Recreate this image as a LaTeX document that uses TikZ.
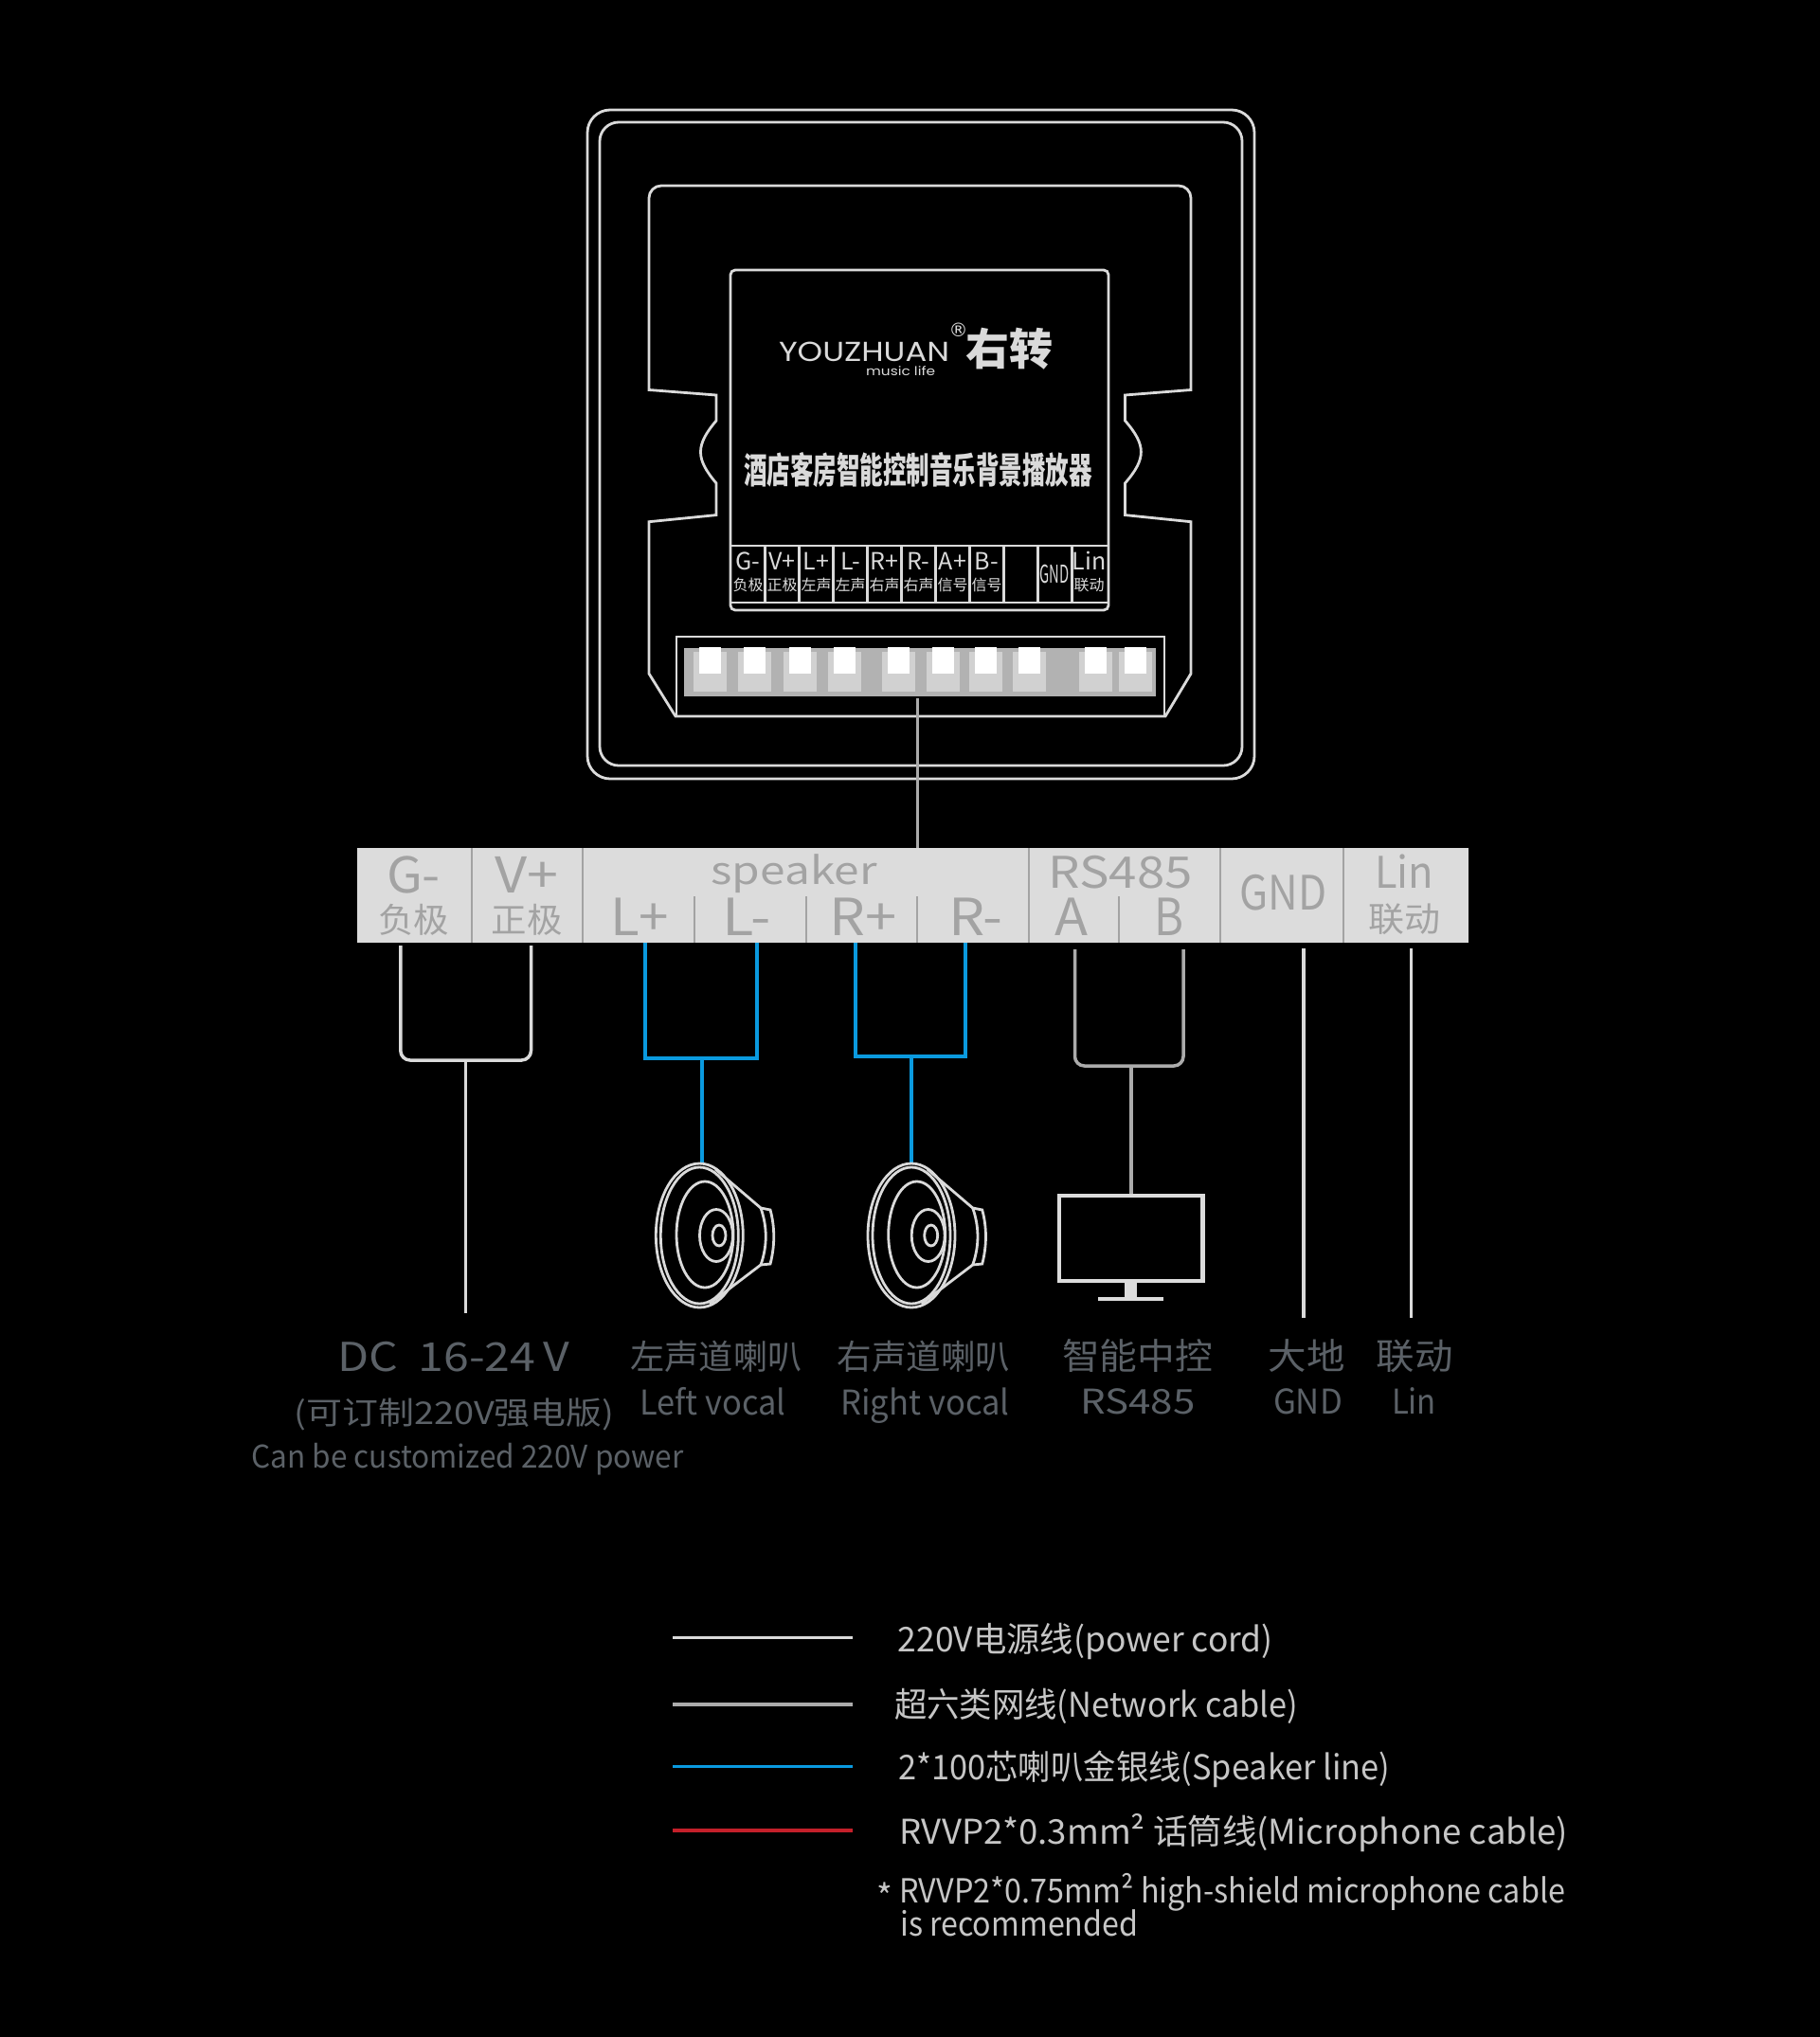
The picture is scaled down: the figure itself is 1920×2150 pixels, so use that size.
\documentclass[tikz,border=0pt]{standalone}
\usepackage{graphicx}
\usepackage{fontspec}
\setmainfont{Noto Sans CJK SC}
\newfontfamily\logofont{Poppins}
\newfontfamily\markfont{DejaVu Sans}
\newcommand{\wtext}[2]{\resizebox{#1pt}{\height}{#2}}
\newcommand{\fs}[1]{\fontsize{#1}{#1}\selectfont}
\definecolor{linegray}{HTML}{DADADA}
\definecolor{netgray}{HTML}{ABABAB}
\definecolor{barfill}{HTML}{DCDCDC}
\definecolor{bartext}{HTML}{A3A3A3}
\definecolor{dimtext}{HTML}{5B6167}
\definecolor{legtext}{HTML}{C6C6C6}
\definecolor{wireblue}{HTML}{0A9ADF}
\definecolor{wirered}{HTML}{C4202A}
\begin{document}
\begin{tikzpicture}[x=1pt, y=-1pt]
        \tikzstyle{outline}=[draw=linegray, line width=2.8pt]
        \tikzstyle{power}=[draw=linegray, line width=3.5pt]
        \tikzstyle{net}=[draw=netgray, line width=3.5pt]
        \tikzstyle{spk}=[draw=wireblue, line width=4pt]
        \tikzstyle{txt}=[inner sep=0pt, anchor=base]
        \tikzstyle{bartxt}=[txt, text=bartext]
        \tikzstyle{dimtxt}=[txt, text=dimtext]
        \tikzstyle{legtxt}=[txt, anchor=base west, text=legtext]
        \tikzstyle{celltxt}=[txt, text=linegray]

        % Background
        \useasboundingbox (0,0) rectangle (1920,2150);
        \fill[black] (-5,-5) rectangle (1925,2155);

        % Panel
        \draw[outline, rounded corners=24] (620,116) rectangle (1324,822);
        \draw[outline, rounded corners=20] (633,129) rectangle (1311,808);
        \draw[outline] (685,411.5) [rounded corners=13] -- (685,196) -- (1257,196) [sharp corners] -- (1257,411.5)
            -- (1187.5,417) -- (1187.5,444) .. controls (1210,470) and (1210,484) .. (1187.5,510)
            -- (1187.5,543.6) -- (1257,550.7) -- (1257,711) -- (1230,756) -- (713,756) -- (685,711)
            -- (685,550.7) -- (756,543.6) -- (756,510) .. controls (734,484) and (734,470) .. (756,444)
            -- (756,417) -- cycle;
        \draw[outline] (714,756) -- (714,672) -- (1229,672) -- (1229,756);

        % Module
        \draw[outline, rounded corners=5] (771,285) rectangle (1170,644);
        \draw[outline] (771,576) -- (1170,576);
        \draw[outline] (771,636) -- (1170,636);
        \foreach \i in {1,...,10}
            \draw[outline] ({771.7+36*\i},576) -- ({771.7+36*\i},636);
        \foreach \i/\up/\low in {0/G-/负极, 1/V+/正极, 2/L+/左声, 3/L-/左声, 4/R+/右声, 5/R-/右声, 6/A+/信号, 7/B-/信号, 10/Lin/联动} {
            \draw node at ({789.5+36*\i},601) [celltxt, font=\fs{25}] (cell_up_\i) {\up};
            \draw node at ({789.5+36*\i},623) [celltxt, font=\fs{16}] (cell_low_\i) {\low};
        }
        \draw node at (1113,615) [celltxt, font=\fs{26}] (cell_gnd) {\wtext{31}{GND}};

        % Logo
        \draw node at (912,381) [txt, text=linegray, font=\logofont\fs{29}] (logo_en) {\wtext{180}{YOUZHUAN}};
        \draw node at (950.6,396) [txt, text=linegray, font=\logofont\fs{13}] (logo_sub) {\wtext{73}{music life}};
        \draw node at (1011.5,355) [txt, text=linegray, font=\markfont\fs{20}] (logo_reg) {®};
        \draw node at (1065,385) [txt, text=linegray, font=\bfseries\fs{46}] (logo_cn) {\wtext{92}{右转}};
        \draw node at (969,510) [txt, text=linegray, font=\bfseries\fs{38}] (title) {\wtext{368}{酒店客房智能控制音乐背景播放器}};

        % Plug
        \draw node at (971.3,709) [fill=black!30, minimum width=498pt, minimum height=51pt, inner sep=0pt] (strip) {};
        \foreach \cx in {749,796,844,891,948,995,1040,1086,1156,1198} {
            \fill[black!18] ({\cx-17.5},688) rectangle ({\cx+17.5},730);
            \fill[white] ({\cx-11.5},683) rectangle ({\cx+11.5},711);
        }

        % Terminal bar
        \draw node at (963.5,945) [fill=barfill, minimum width=1173pt, minimum height=100.6pt, inner sep=0pt] (bar) {};
        \foreach \x in {497.8,614.8,1085.5,1287.5,1417.6}
            \draw[draw=bartext, line width=2pt] (\x,895) -- (\x,995);
        \foreach \x in {732.7,850.5,968.4,1181}
            \draw[draw=bartext, line width=2pt] (\x,946) -- (\x,995);

        \draw node at (436.5,942) [bartxt, font=\fs{52}] (bar_g) {\wtext{57}{G-}};
        \draw node at (436.5,984) [bartxt, font=\fs{36}] (bar_g_cn) {\wtext{75}{负极}};
        \draw node at (556,942) [bartxt, font=\fs{52}] (bar_v) {\wtext{67}{V+}};
        \draw node at (556,984) [bartxt, font=\fs{36}] (bar_v_cn) {\wtext{75}{正极}};
        \draw node at (838,933) [bartxt, font=\fs{40}] (bar_speaker) {\wtext{175}{speaker}};
        \draw node at (675,987) [bartxt, font=\fs{54}] (bar_lp) {\wtext{62}{L+}};
        \draw node at (788,987) [bartxt, font=\fs{54}] (bar_lm) {\wtext{51}{L-}};
        \draw node at (911,987) [bartxt, font=\fs{54}] (bar_rp) {\wtext{71}{R+}};
        \draw node at (1030,987) [bartxt, font=\fs{54}] (bar_rm) {\wtext{57}{R-}};
        \draw node at (1130.5,987) [bartxt, font=\fs{54}] (bar_a) {\wtext{35}{A}};
        \draw node at (1234,987) [bartxt, font=\fs{54}] (bar_b) {\wtext{31}{B}};
        \draw node at (1182.5,937) [bartxt, font=\fs{46}] (bar_rs) {\wtext{152}{RS485}};
        \draw node at (1354.5,960) [bartxt, font=\fs{50}] (bar_gnd) {\wtext{92}{GND}};
        \draw node at (1482,937) [bartxt, font=\fs{46}] (bar_lin) {\wtext{62}{Lin}};
        \draw node at (1482,983) [bartxt, font=\fs{36}] (bar_lin_cn) {\wtext{76}{联动}};

        % Wire ends
        \coordinate (strip_out) at (968.4,737);
        \coordinate (bar_in) at (968.4,895);
        \coordinate (g_top) at (422.8,998);
        \coordinate (g_bot) at (422.8,1119);
        \coordinate (v_top) at (560.5,998);
        \coordinate (v_bot) at (560.5,1119);
        \coordinate (dc_in) at (491.6,1119);
        \coordinate (dc_end) at (491.6,1386);
        \coordinate (lp_top) at (681.4,995);
        \coordinate (lp_bot) at (681.4,1117);
        \coordinate (lm_top) at (798.5,995);
        \coordinate (lm_bot) at (798.5,1117);
        \coordinate (ls_in) at (741,1117);
        \coordinate (ls_end) at (741,1229);
        \coordinate (rp_top) at (902.6,995);
        \coordinate (rp_bot) at (902.6,1115);
        \coordinate (rm_top) at (1019,995);
        \coordinate (rm_bot) at (1019,1115);
        \coordinate (rs_in) at (961.5,1115);
        \coordinate (rs_end) at (961.5,1229);
        \coordinate (a_top) at (1134.5,1002);
        \coordinate (a_bot) at (1134.5,1125);
        \coordinate (b_top) at (1249,1002);
        \coordinate (b_bot) at (1249,1125);
        \coordinate (mon_in) at (1194,1125);
        \coordinate (mon_top) at (1194,1260);
        \coordinate (gnd_top) at (1376,1001);
        \coordinate (gnd_end) at (1376,1391);
        \coordinate (lin_top) at (1489.6,1001);
        \coordinate (lin_end) at (1489.6,1391);

        % Wires
        \draw[net] (strip_out) -- (bar_in);
        \draw[power, rounded corners=10] (g_top) -- (g_bot) -- (v_bot) -- (v_top);
        \draw[power] (dc_in) -- (dc_end);
        \draw[spk] (lp_top) -- (lp_bot) -- (lm_bot) -- (lm_top);
        \draw[spk] (ls_in) -- (ls_end);
        \draw[spk] (rp_top) -- (rp_bot) -- (rm_bot) -- (rm_top);
        \draw[spk] (rs_in) -- (rs_end);
        \draw[net, rounded corners=10] (a_top) -- (a_bot) -- (b_bot) -- (b_top);
        \draw[net] (mon_in) -- (mon_top);
        \draw[power] (gnd_top) -- (gnd_end);
        \draw[power] (lin_top) -- (lin_end);

        % Speakers
        \foreach \dx in {0,223.7} {
            \begin{scope}[xshift=\dx pt]
                \draw[outline] (738.3,1304) ellipse [x radius=46, y radius=76];
                \draw[outline] (738.3,1304) ellipse [x radius=41, y radius=72];
                \draw[outline] (744,1303) ellipse [x radius=30, y radius=56];
                \draw[outline] (756,1304) ellipse [x radius=17.5, y radius=27.5];
                \draw[outline] (759,1304) ellipse [x radius=7, y radius=11];
                \draw[outline] (755,1234) -- (803,1275) -- (813,1277) .. controls (818,1295) and (818,1315) .. (813,1334) -- (803,1335) -- (749,1376);
                \draw[outline] (803,1275) .. controls (810,1295) and (810,1315) .. (803,1335);
            \end{scope}
        }

        % Monitor
        \draw[draw=barfill, line width=4.5pt] (1118,1262) rectangle (1269.5,1352);
        \fill[barfill] (1187,1354) rectangle (1200,1370);
        \fill[barfill] (1159,1369) rectangle (1228,1373);

        % Device labels
        \draw node at (478.5,1447) [dimtxt, font=\fs{42}] (dc_volt) {\wtext{245}{DC\ \ 16-24\,V}};
        \draw node at (479.5,1503) [dimtxt, font=\fs{33}] (dc_cn) {\wtext{338}{(可订制220V强电版)}};
        \draw node at (493.5,1549.5) [dimtxt, font=\fs{33}] (dc_en) {\wtext{456}{Can be customized 220V power}};
        \draw node at (756,1445) [dimtxt, font=\fs{36}] (ls_cn) {\wtext{181}{左声道喇叭}};
        \draw node at (975,1445) [dimtxt, font=\fs{36}] (rs_cn) {\wtext{183}{右声道喇叭}};
        \draw node at (1200.5,1445) [dimtxt, font=\fs{38}] (mon_cn) {\wtext{159}{智能中控}};
        \draw node at (1379,1445) [dimtxt, font=\fs{38}] (gnd_cn) {\wtext{81}{大地}};
        \draw node at (1493,1445) [dimtxt, font=\fs{38}] (lin_cn) {\wtext{81}{联动}};
        \draw node at (752.5,1493) [dimtxt, font=\fs{36}] (ls_en) {\wtext{154}{Left vocal}};
        \draw node at (976.5,1493) [dimtxt, font=\fs{36}] (rs_en) {\wtext{178}{Right vocal}};
        \draw node at (1201,1492) [dimtxt, font=\fs{36}] (mon_en) {\wtext{121}{RS485}};
        \draw node at (1380.5,1492) [dimtxt, font=\fs{36}] (gnd_en) {\wtext{73}{GND}};
        \draw node at (1492.5,1492) [dimtxt, font=\fs{36}] (lin_en) {\wtext{47}{Lin}};

        % Legend
        \foreach \n/\y/\sty in {a/1728.7/linegray, b/1799/netgray, c/1864.7/wireblue, d/1932/wirered} {
            \coordinate (leg_\n_a) at (710,\y);
            \coordinate (leg_\n_b) at (900,\y);
            \draw[draw=\sty, line width=3.5pt] (leg_\n_a) -- (leg_\n_b);
        }
        \draw node at (947.6,1743) [legtxt, font=\fs{36}] (leg_power) {\wtext{396}{220V电源线(power cord)}};
        \draw node at (944,1812) [legtxt, font=\fs{36}] (leg_net) {\wtext{426}{超六类网线(Network cable)}};
        \draw node at (948,1878) [legtxt, font=\fs{36}] (leg_spk) {\wtext{519}{2*100芯喇叭金银线(Speaker line)}};
        \draw node at (949,1946) [legtxt, font=\fs{36}] (leg_mic) {\wtext{706}{RVVP2*0.3mm² 话筒线(Microphone cable)}};
        \draw node at (925,2015) [legtxt, font=\fs{36}] (leg_star) {*};
        \draw node at (949,2008) [legtxt, font=\fs{35}] (leg_note_a) {\wtext{703}{RVVP2*0.75mm² high-shield microphone cable}};
        \draw node at (950,2043) [legtxt, font=\fs{35}] (leg_note_b) {\wtext{251}{is recommended}};
\end{tikzpicture}
\end{document}
